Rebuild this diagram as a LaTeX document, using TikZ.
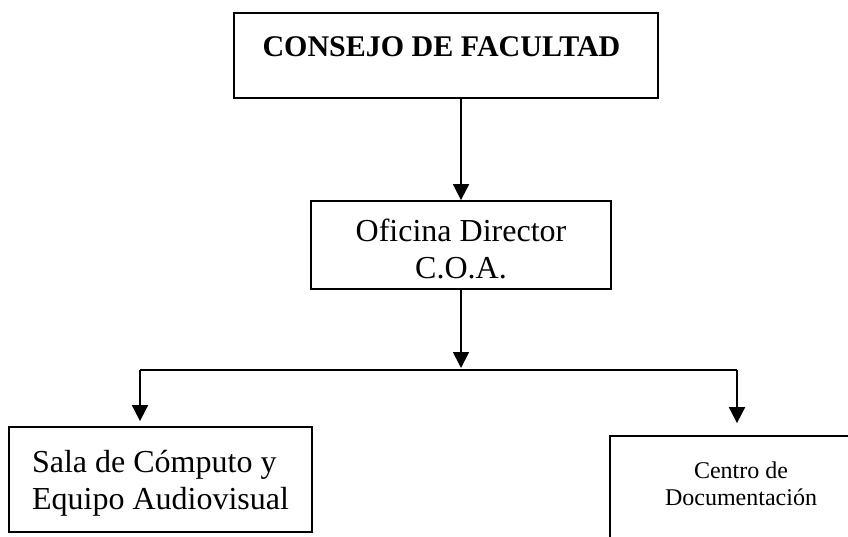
\documentclass[tikz,border=0pt]{standalone}
\usepackage{fontspec}
\setmainfont{Liberation Serif}
\usetikzlibrary{arrows.meta}
\begin{document}
\begin{tikzpicture}[x=1pt,y=-1pt,
  box/.style={draw, line width=1.8pt, inner sep=0pt},
  arr/.style={line width=1.8pt, -{Triangle[length=16pt,width=16pt]}},
  ln/.style={line width=1.8pt}]
\useasboundingbox (0,0) rectangle (848,536);
\clip (0,0) rectangle (848,536);

\node[box, minimum width=424pt, minimum height=85pt, text height=20pt, text depth=19pt,
  font=\bfseries\fontsize{30}{34}\selectfont] (top) at (446,55.5) {\hspace*{-9pt}CONSEJO DE FACULTAD};

\node[box, minimum width=300pt, minimum height=88pt, align=center,
  font=\fontsize{32}{36.7}\selectfont] (mid) at (461,245) {\rule{0pt}{30pt}Oficina Director\\C.O.A.};

\node[box, minimum width=303pt, minimum height=105pt, align=left,
  font=\fontsize{32}{37}\selectfont] (sala) at (160.5,479.5) {\rule{0pt}{29pt}Sala de Cómputo y\\Equipo Audiovisual};

\node[box, minimum width=262pt, minimum height=114pt, align=center,
  font=\fontsize{24}{27.6}\selectfont] (cdoc) at (741,493) {Centro de\\Documentación\rule[-19pt]{0pt}{0pt}};

\coordinate (j) at (461,370);
\coordinate (jl) at (140,370);
\coordinate (jr) at (737,370);

\draw[arr] (mid.north |- top.south) -- (mid.north);
\draw[arr, shorten >=2pt] (mid.south) -- (j);
\draw[ln] (jl) -- (jr);
\draw[arr, shorten >=5pt] (jl) -- (jl |- sala.north);
\draw[arr, shorten >=12pt] (jr) -- (jr |- cdoc.north);
\end{tikzpicture}
\end{document}
